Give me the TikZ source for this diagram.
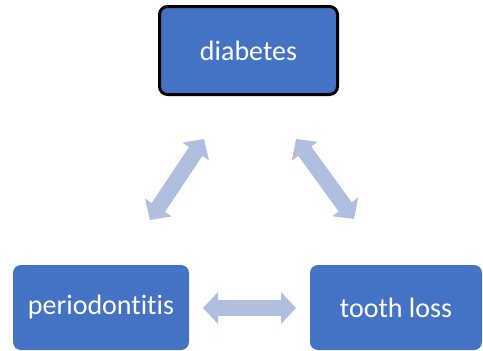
\documentclass[tikz,border=0pt]{standalone}
\usepackage{fontspec}
\setmainfont[Ligatures={NoCommon,NoRare,NoContextual}]{Carlito}
\usetikzlibrary{arrows.meta}
\definecolor{boxblue}{HTML}{4472C4}
\definecolor{arrowblue}{HTML}{B0BEDF}
\begin{document}
\begin{tikzpicture}[x=1pt,y=1pt,
  box/.style={rectangle, rounded corners=8pt, fill=boxblue, draw=none,
    text=white, font=\fontsize{28}{32}\selectfont, inner sep=0pt},
  dbl/.style={draw=arrowblue, line width=16pt,
    {Triangle[width=31pt,length=15pt]}-{Triangle[width=31pt,length=15pt]}}]
\useasboundingbox (0,0) rectangle (483,-351);
\fill[white] (0,0) rectangle (483,-351);
\node[box, draw=black, line width=3pt, minimum width=178pt, minimum height=88pt] (dia) at (248.5,-50.5) {diabetes};
\node[box, minimum width=176pt, minimum height=85pt] (per) at (101,-307.5) {periodontitis};
\node[box, minimum width=172pt, minimum height=85pt] (too) at (396,-307.5) {tooth loss};
\coordinate (h1) at (203,-308);
\coordinate (h2) at (296,-308);
\coordinate (l1) at (150,-220);
\coordinate (l2) at (204,-139);
\coordinate (r1) at (296,-139);
\coordinate (r2) at (354,-219);
\draw[dbl] (h1) -- (h2);
\draw[dbl] (l1) -- (l2);
\draw[dbl] (r1) -- (r2);
\end{tikzpicture}
\end{document}
